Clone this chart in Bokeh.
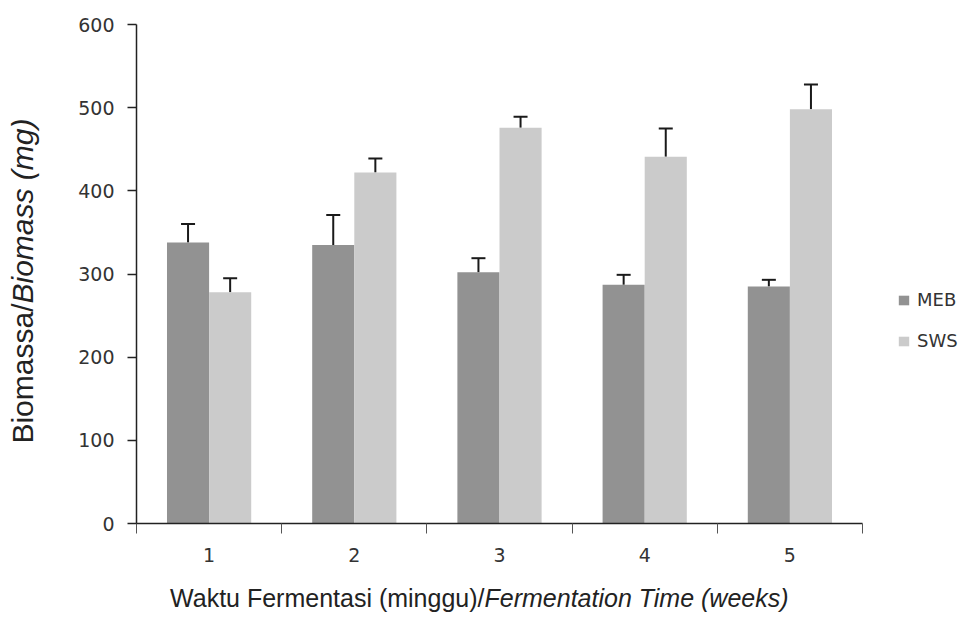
import math
from bokeh.plotting import figure
from bokeh.models import (ColumnDataSource, Range1d, FixedTicker, Whisker, TeeHead,
                          Legend, LegendItem, Label)
from bokeh.transform import dodge
from bokeh.embed import file_html
from bokeh.resources import INLINE

weeks = [1, 2, 3, 4, 5]
week_labels = ["1", "2", "3", "4", "5"]
meb = [338, 335, 302, 287, 285]
meb_err = [22, 36, 17, 12, 8]
sws = [278, 422, 476, 441, 498]
sws_err = [17, 17, 13, 34, 30]
y_ticks = [0, 100, 200, 300, 400, 500, 600]

src = ColumnDataSource(dict(
    week=weeks, meb=meb, sws=sws,
    meb_up=[v + e for v, e in zip(meb, meb_err)],
    sws_up=[v + e for v, e in zip(sws, sws_err)],
))

W, H = 959, 612
# pixel layout of the plotting area (axes drawn at fixed locations inside a full-canvas frame)
left_px, right_px, top_px, zero_px = 136, 862, 24, 523
xpu = (right_px - left_px) / 5.0
ypu = (zero_px - top_px) / 600.0
x_range = Range1d(0.5 - left_px / xpu, 5.5 + (W - right_px) / xpu)
y_range = Range1d(-(H - zero_px) / ypu, 600 + top_px / ypu)

p = figure(width=W, height=H, output_backend="svg", toolbar_location=None,
           x_range=x_range, y_range=y_range,
           min_border=0, min_border_left=0, min_border_right=0,
           min_border_top=0, min_border_bottom=0)
p.outline_line_color = None
p.xgrid.visible = False
p.ygrid.visible = False
p.background_fill_color = "white"
p.border_fill_color = "white"

bw = 0.29
off = 0.145
r1 = p.vbar(x=dodge("week", -off, range=p.x_range), top="meb", width=bw, bottom=0,
            source=src, fill_color="#929292", line_color=None)
r2 = p.vbar(x=dodge("week", off, range=p.x_range), top="sws", width=bw, bottom=0,
            source=src, fill_color="#cbcbcb", line_color=None)

for col, up, o in (("meb", "meb_up", -off), ("sws", "sws_up", off)):
    w = Whisker(base=dodge("week", o, range=p.x_range), lower=col, upper=up,
                source=src, dimension="height", line_color="#1a1a1a", line_width=2,
                lower_head=None,
                upper_head=TeeHead(size=14, line_color="#1a1a1a", line_width=2))
    p.add_layout(w)

# x axis at y = 0
p.xaxis.fixed_location = 0
p.xaxis.bounds = (0.5, 5.5)
p.xaxis.ticker = FixedTicker(ticks=weeks, minor_ticks=[0.5, 1.5, 2.5, 3.5, 4.5, 5.5])
p.xaxis.major_label_overrides = {w: l for w, l in zip(weeks, week_labels)}
p.xaxis.major_tick_line_color = None
p.xaxis.major_tick_out = 0
p.xaxis.major_tick_in = 0
p.xaxis.minor_tick_out = 10
p.xaxis.minor_tick_in = 0
p.xaxis.minor_tick_line_color = "#555555"
p.xaxis.major_label_standoff = 14

# y axis at x = 0.5
p.yaxis.fixed_location = 0.5
p.yaxis.bounds = (0, 600)
p.yaxis.ticker = FixedTicker(ticks=y_ticks)
p.yaxis.major_tick_out = 9
p.yaxis.major_tick_in = 0
p.yaxis.minor_tick_line_color = None
p.yaxis.major_label_standoff = 13
p.yaxis.major_tick_line_color = "#222222"
p.yaxis.major_tick_line_width = 1.5

for ax in (p.xaxis, p.yaxis):
    ax.axis_line_color = "#222222"
    ax.axis_line_width = 1.5
    ax.major_label_text_font = "DejaVu Sans"
    ax.major_label_text_font_size = "19px"
    ax.major_label_text_color = "#333333"

# axis titles (mixed upright / italic), screen units relative to the frame
common = dict(x_units="screen", y_units="screen", text_font="Liberation Sans",
              text_color="#222222", text_baseline="alphabetic")
p.add_layout(Label(x=484, y=15, text="Waktu Fermentasi (minggu)/", text_align="right",
                   text_font_size="25px", **common))
p.add_layout(Label(x=484, y=15, text="Fermentation Time (weeks)", text_align="left",
                   text_font_style="italic", text_font_size="25px", **common))
p.add_layout(Label(x=22, y=H - 303, angle=math.pi / 2, text="Biomassa/", text_align="right",
                   text_font_size="30px", **common))
p.add_layout(Label(x=22, y=H - 303, angle=math.pi / 2, text="Biomass (mg)", text_align="left",
                   text_font_style="italic", text_font_size="30px", **common))

legend = Legend(items=[LegendItem(label="MEB", renderers=[r1]),
                       LegendItem(label="SWS", renderers=[r2])],
                location=(897, H - 351), padding=0, margin=0, spacing=20,
                glyph_width=13, glyph_height=12, label_height=20, label_standoff=7,
                border_line_color=None, background_fill_alpha=0,
                label_text_font="DejaVu Sans", label_text_font_size="18px",
                label_text_color="#333333")
p.add_layout(legend, "center")

open("out.html", "w").write(file_html(p, INLINE))
